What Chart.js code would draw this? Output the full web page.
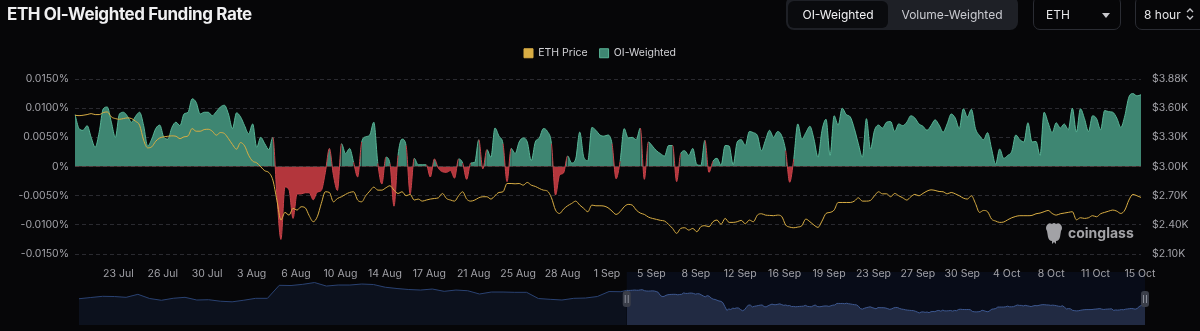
<!DOCTYPE html>
<html>
<head>
<meta charset="utf-8">
<title>ETH OI-Weighted Funding Rate</title>
<script src="https://cdn.jsdelivr.net/npm/chart.js@4.4.1/dist/chart.umd.min.js"></script>
<style>
  html, body { margin: 0; padding: 0; background: #060608; width: 1200px; height: 331px; overflow: hidden; font-family: Inter, "Noto Sans", sans-serif; }
  #wrap { position: relative; width: 1200px; height: 331px; }
  #main { position: absolute; left: 0; top: 0; }
  #nav { position: absolute; left: 0; top: 268px; }
  .title { position: absolute; left: 7px; top: 4px; font-size: 17px; font-weight: 700; color: #efeff1; letter-spacing: -0.4px; }
  .seg { position: absolute; left: 786px; top: -4px; width: 232px; height: 34px; background: #1e2026; border-radius: 8px; }
  .seg div { position: absolute; top: 5px; height: 27px; line-height: 27px; font-size: 12px; text-align: center; }
  .seg .on { left: 2px; width: 100px; background: #0a0b0e; border-radius: 6px; color: #f2f2f4; }
  .seg .off { left: 102px; width: 128px; color: #c9cad0; }
  .sel { position: absolute; top: -4px; height: 34px; border: 1px solid #2a2c33; border-radius: 7px; color: #e6e6e8; font-size: 12px; line-height: 36px; box-sizing: border-box; }
  .mark { position: absolute; left: 1044px; top: 222px; }
  .mark span { position: absolute; left: 24px; top: 0px; font-size: 14px; font-weight: 700; color: #a2a2a6; line-height: 21px; }
</style>
</head>
<body>
<div id="wrap">
  <canvas id="nav" width="1200" height="63"></canvas>
  <canvas id="main" width="1200" height="280"></canvas>
  <div class="title">ETH OI-Weighted Funding Rate</div>
  <div class="seg"><div class="on">OI-Weighted</div><div class="off">Volume-Weighted</div></div>
  <div class="sel" style="left:1033px;width:88px;padding-left:12px;">ETH
    <svg style="position:absolute;left:68px;top:16px" width="8" height="5"><path d="M0 0 L8 0 L4 5 Z" fill="#c8c8cc"/></svg>
  </div>
  <div class="sel" style="left:1135px;width:80px;padding-left:8px;">8 hour
    <svg style="position:absolute;left:50px;top:10px" width="8" height="14"><path d="M1 5 L4 2 L7 5 M1 9 L4 12 L7 9" stroke="#c8c8cc" stroke-width="1.3" fill="none"/></svg>
  </div>
  <div class="mark">
    <svg width="20" height="22" viewBox="0 0 20 22"><path d="M3 3 Q5 0 8 2 Q10 0 12 2 Q15 0 17 3 Q19 6 17 9 L16 15 Q15 19 12 19 L12 22 L10 20 L8 22 L8 19 Q5 19 4 15 L3 9 Q1 6 3 3 Z" fill="#a2a2a6"/></svg>
    <span>coinglass</span>
  </div>
</div>
<script>
// 8h funding rate, OI-weighted (%), 19 Jul 16:00 -> 15 Oct 16:00
const FUNDING = [
  0.0089, 0.0065, 0.0062, 0.0070, 0.0050, 0.0033, 0.0059, 0.0099, 0.0102, 0.0076,
  0.0050, 0.0090, 0.0093, 0.0086, 0.0076, 0.0086, 0.0093, 0.0070, 0.0035, 0.0047,
  0.0065, 0.0071, 0.0050, 0.0047, 0.0067, 0.0076, 0.0070, 0.0090, 0.0093, 0.0116,
  0.0110, 0.0090, 0.0093, 0.0093, 0.0087, 0.0094, 0.0102, 0.0105, 0.0090, 0.0065,
  0.0092, 0.0085, 0.0070, 0.0056, 0.0073, 0.0033, 0.0050, 0.0039, 0.0029, 0.0050,
  -0.0050, -0.0125, -0.0035, -0.0040, -0.0089, -0.0047, -0.0047, -0.0045, -0.0045, -0.0057,
  -0.0044, -0.0041, -0.0010, 0.0031, -0.0015, -0.0041, 0.0039, 0.0022, 0.0031, 0.0007,
  -0.0018, 0.0042, 0.0051, 0.0054, 0.0076, 0.0005, -0.0030, 0.0016, 0.0005, -0.0068,
  0.0019, 0.0047, 0.0036, -0.0047, 0.0014, 0.0003, 0.0003, 0.0003, -0.0018, 0.0013,
  -0.0003, -0.0009, -0.0010, -0.0007, -0.0020, 0.0013, 0.0006, -0.0022, 0.0006, 0.0007,
  0.0046, -0.0004, 0.0029, 0.0016, 0.0066, 0.0052, 0.0039, -0.0026, 0.0031, 0.0022,
  0.0042, 0.0049, 0.0042, 0.0010, 0.0042, 0.0049, 0.0065, 0.0060, 0.0039, -0.0049,
  -0.0015, -0.0011, 0.0018, 0.0006, 0.0013, 0.0059, 0.0016, 0.0010, 0.0067, 0.0062,
  0.0054, 0.0052, 0.0054, 0.0039, -0.0021, 0.0009, 0.0065, 0.0049, 0.0050, 0.0046,
  0.0066, -0.0022, 0.0042, 0.0035, 0.0027, 0.0022, 0.0018, 0.0036, 0.0036, -0.0026,
  0.0022, 0.0027, 0.0019, 0.0031, 0.0003, 0.0002, 0.0045, -0.0010, 0.0009, 0.0014,
  0.0002, 0.0036, 0.0035, 0.0003, 0.0042, 0.0046, 0.0036, 0.0060, 0.0058, 0.0053,
  0.0027, 0.0045, 0.0062, 0.0050, 0.0060, 0.0053, 0.0027, -0.0027, 0.0013, 0.0073,
  0.0047, 0.0058, 0.0069, 0.0047, 0.0016, 0.0062, 0.0081, 0.0019, 0.0087, 0.0071,
  0.0100, 0.0089, 0.0085, 0.0065, 0.0039, 0.0016, 0.0082, 0.0030, 0.0062, 0.0071,
  0.0066, 0.0076, 0.0077, 0.0060, 0.0073, 0.0070, 0.0076, 0.0087, 0.0083, 0.0073,
  0.0069, 0.0062, 0.0070, 0.0080, 0.0071, 0.0059, 0.0073, 0.0090, 0.0083, 0.0065,
  0.0099, 0.0085, 0.0098, 0.0065, 0.0053, 0.0046, 0.0058, 0.0030, 0.0004, 0.0030,
  0.0014, 0.0019, 0.0026, 0.0054, 0.0046, 0.0042, 0.0075, 0.0042, 0.0043, 0.0019,
  0.0093, 0.0075, 0.0058, 0.0075, 0.0066, 0.0073, 0.0063, 0.0100, 0.0059, 0.0099,
  0.0082, 0.0060, 0.0087, 0.0082, 0.0063, 0.0096, 0.0094, 0.0093, 0.0083, 0.0067,
  0.0087, 0.0119, 0.0125, 0.0121, 0.0123
];

// ETH price ($), same timestamps
const PRICE = [
  3527, 3523, 3527, 3534, 3544, 3534, 3534, 3555, 3561, 3510,
  3493, 3486, 3493, 3500, 3493, 3465, 3424, 3270, 3192, 3202,
  3260, 3294, 3305, 3311, 3315, 3311, 3287, 3305, 3315, 3390,
  3363, 3363, 3380, 3383, 3363, 3322, 3349, 3339, 3287, 3226,
  3178, 3246, 3212, 3116, 3055, 3038, 2997, 2956, 2938, 2860,
  2654, 2449, 2528, 2500, 2569, 2552, 2586, 2576, 2494, 2432,
  2483, 2620, 2740, 2733, 2637, 2671, 2689, 2713, 2733, 2740,
  2655, 2637, 2699, 2747, 2788, 2757, 2757, 2781, 2802, 2757,
  2723, 2740, 2699, 2713, 2655, 2665, 2644, 2655, 2665, 2671,
  2678, 2723, 2671, 2655, 2644, 2699, 2740, 2665, 2644, 2655,
  2678, 2689, 2689, 2665, 2699, 2733, 2740, 2825, 2825, 2822,
  2825, 2808, 2836, 2808, 2795, 2774, 2757, 2747, 2678, 2552,
  2517, 2562, 2596, 2620, 2644, 2603, 2569, 2535, 2603, 2596,
  2596, 2593, 2576, 2541, 2507, 2535, 2586, 2610, 2603, 2552,
  2521, 2507, 2480, 2466, 2456, 2446, 2439, 2405, 2363, 2312,
  2363, 2370, 2346, 2363, 2329, 2381, 2391, 2381, 2432, 2449,
  2405, 2466, 2425, 2425, 2432, 2446, 2411, 2449, 2432, 2500,
  2514, 2500, 2497, 2494, 2500, 2487, 2398, 2377, 2370, 2377,
  2391, 2459, 2432, 2398, 2374, 2439, 2517, 2528, 2552, 2630,
  2630, 2630, 2630, 2644, 2678, 2644, 2644, 2651, 2699, 2740,
  2719, 2719, 2689, 2723, 2699, 2678, 2655, 2689, 2713, 2699,
  2723, 2747, 2760, 2754, 2743, 2740, 2719, 2733, 2719, 2699,
  2675, 2665, 2699, 2620, 2528, 2548, 2535, 2459, 2439, 2425,
  2429, 2452, 2473, 2487, 2494, 2494, 2494, 2497, 2514, 2521,
  2535, 2548, 2517, 2500, 2514, 2521, 2528, 2535, 2452, 2473,
  2466, 2473, 2494, 2483, 2514, 2528, 2541, 2552, 2541, 2517,
  2552, 2654, 2713, 2699, 2682
];

// older ETH price shown only in the zoom slider, one value every 2 days (17 Apr -> 18 Jul)
const NAV_HISTORY = [
  3078, 3143, 3207, 3196, 3153, 3315, 3089, 2995, 3102, 3153,
  3009, 3025, 2944, 2912, 2998, 3100, 3100, 3798, 3787, 3852,
  3948, 3760, 3814, 3814, 3868, 3841, 3696, 3626, 3572, 3545,
  3599, 3476, 3545, 3508, 3331, 3438, 3438, 3422, 3422, 3089,
  3046, 3009, 3100, 3116, 3196, 3465, 3455
];

const X_TICKS = ['23 Jul', '26 Jul', '30 Jul', '3 Aug', '6 Aug', '10 Aug', '14 Aug', '17 Aug',
  '21 Aug', '25 Aug', '28 Aug', '1 Sep', '5 Sep', '8 Sep', '12 Sep', '16 Sep', '19 Sep',
  '23 Sep', '27 Sep', '30 Sep', '4 Oct', '8 Oct', '11 Oct', '15 Oct'];
const RATE_TICKS = [-0.015, -0.01, -0.005, 0, 0.005, 0.01, 0.015];
const RATE_LABELS = ['-0.0150%', '-0.0100%', '-0.0050%', '0%', '0.0050%', '0.0100%', '0.0150%'];
const PRICE_TICKS = [2100, 2400, 2700, 3000, 3300, 3600, 3900];
const PRICE_LABELS = ['$2.10K', '$2.40K', '$2.70K', '$3.00K', '$3.30K', '$3.60K', '$3.88K'];

const START = Date.UTC(2024, 6, 19, 16);
const CATEGORIES = FUNDING.map((_, i) => new Date(START + i * 8 * 3600e3).toISOString());

const GREEN = '#3e8672', GREEN_LINE = '#58b596', RED = '#b3363c', RED_LINE = '#c8434a', GOLD = '#d8ad44';
const AXIS_TEXT = '#a1a1a7';
const AXIS_FONT = { size: 10.5, family: 'Inter' };

// legend needs more room below it
const legendGap = {
  id: 'legendGap',
  beforeInit(chart) {
    const fit = chart.legend.fit;
    chart.legend.fit = function () {
      fit.bind(chart.legend)();
      this.height += 10.5;
    };
  }
};

new Chart(document.getElementById('main'), {
  type: 'line',
  data: {
    labels: CATEGORIES,
    datasets: [
      {
        label: 'ETH Price', data: PRICE, yAxisID: 'yPrice',
        borderColor: GOLD, backgroundColor: GOLD, borderWidth: 1,
        pointRadius: 0, cubicInterpolationMode: 'monotone', fill: false
      },
      {
        label: 'OI-Weighted', data: FUNDING, yAxisID: 'yRate',
        borderColor: GREEN_LINE, backgroundColor: GREEN, borderWidth: 1,
        pointRadius: 0, cubicInterpolationMode: 'monotone',
        fill: { target: 'origin', above: GREEN, below: RED },
        segment: {
          borderColor: c => (c.p0.parsed.y < 0 || c.p1.parsed.y < 0) ? RED_LINE : GREEN_LINE
        }
      }
    ]
  },
  options: {
    responsive: false,
    animation: false,
    layout: { padding: { top: 36, left: 0, right: 0, bottom: 0 } },
    plugins: {
      legend: {
        labels: { color: '#d2d2d6', font: { size: 10.5, family: 'Inter' }, boxWidth: 9, boxHeight: 9, padding: 12 }
      },
      tooltip: { enabled: false }
    },
    scales: {
      x: {
        grid: { display: false },
        border: { display: false },
        ticks: {
          autoSkip: false, maxRotation: 0, color: AXIS_TEXT, font: AXIS_FONT,
          padding: 6, labelOffset: 3,
          callback: (v, i) => (i >= 10 && (i - 10) % 11 === 0) ? X_TICKS[(i - 10) / 11] : null
        },
        afterFit: s => { s.height = 26; }
      },
      yRate: {
        position: 'left', min: -0.015, max: 0.015,
        afterBuildTicks: s => { s.ticks = RATE_TICKS.map(v => ({ value: v })); },
        ticks: { color: AXIS_TEXT, font: AXIS_FONT, padding: 6, callback: (v, i) => RATE_LABELS[i] },
        grid: { color: '#2a2a30', drawTicks: false, lineWidth: 1 },
        border: { display: false, dash: [4, 3] },
        afterFit: s => { s.width = 75; }
      },
      yPrice: {
        position: 'right', min: 2100, max: 3900,
        afterBuildTicks: s => { s.ticks = PRICE_TICKS.map(v => ({ value: v })); },
        ticks: { color: AXIS_TEXT, font: AXIS_FONT, padding: 11, callback: (v, i) => PRICE_LABELS[i] },
        grid: { display: false, drawTicks: false },
        border: { display: false },
        afterFit: s => { s.width = 59; }
      }
    }
  },
  plugins: [legendGap]
});

// zoom slider below the chart
const navWindow = {
  id: 'navWindow',
  beforeDatasetsDraw(chart) {
    const { ctx, chartArea, scales } = chart;
    const x0 = scales.x.getPixelForValue(0), x1 = scales.x.getPixelForValue(PRICE.length - 1);
    ctx.save();
    ctx.fillStyle = '#080c18';
    ctx.fillRect(x0, chartArea.top, x1 - x0, chartArea.bottom - chartArea.top);
    ctx.restore();
  },
  afterDatasetsDraw(chart) {
    const { ctx, chartArea, scales } = chart;
    const mid = chartArea.top + 27;
    [0, PRICE.length - 1].forEach(v => {
      const x = scales.x.getPixelForValue(v);
      ctx.save();
      ctx.fillStyle = '#3a3e49';
      ctx.beginPath();
      ctx.roundRect(x - 4, mid - 8, 8, 16, 3);
      ctx.fill();
      ctx.strokeStyle = '#8a8e99';
      ctx.lineWidth = 1;
      ctx.beginPath();
      ctx.moveTo(x - 1.5, mid - 4); ctx.lineTo(x - 1.5, mid + 4);
      ctx.moveTo(x + 1.5, mid - 4); ctx.lineTo(x + 1.5, mid + 4);
      ctx.stroke();
      ctx.restore();
    });
  }
};

const navOld = NAV_HISTORY.map((p, k) => ({ x: -279 + 6 * k, y: p }));
navOld.push({ x: 0, y: PRICE[0] });
const navSel = PRICE.map((p, i) => ({ x: i, y: p }));

new Chart(document.getElementById('nav'), {
  type: 'line',
  data: {
    datasets: [
      { data: navSel, borderColor: '#3d5890', backgroundColor: '#212a42', borderWidth: 1, pointRadius: 0, fill: 'start' },
      { data: navOld, borderColor: '#2a4272', backgroundColor: '#0c111d', borderWidth: 1, pointRadius: 0, fill: 'start' }
    ]
  },
  options: {
    responsive: false,
    animation: false,
    layout: { padding: { left: 79, right: 55, top: 4, bottom: 6 } },
    plugins: { legend: { display: false }, tooltip: { enabled: false } },
    scales: {
      x: { type: 'linear', display: false, min: -279, max: PRICE.length - 1 },
      y: { display: false, min: 1666, max: 4514 }
    }
  },
  plugins: [navWindow]
});
</script>
</body>
</html>
